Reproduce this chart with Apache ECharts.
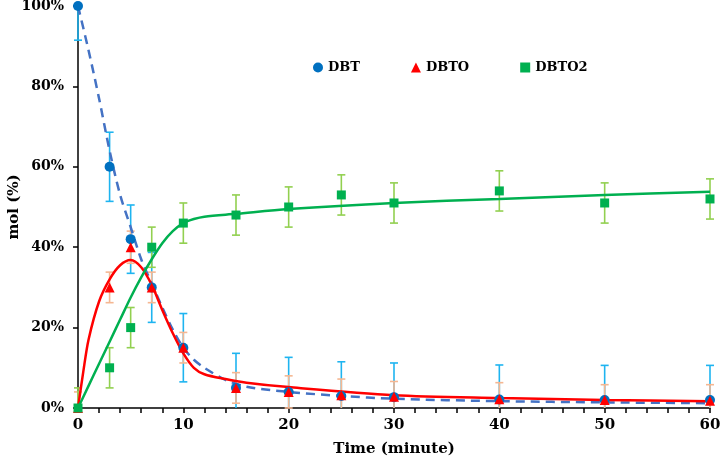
<!DOCTYPE html>
<html>
<head>
<meta charset="utf-8">
<script src="https://cdn.jsdelivr.net/npm/echarts@6/dist/echarts.min.js"></script>
<style>
html, body { margin: 0; padding: 0; background: #fff; }
#main { width: 720px; height: 459px; }
</style>
</head>
<body>
<div id="main"></div>
<script>
// measured points (time in minutes, mol %)
var times = [0, 3, 5, 7, 10, 15, 20, 25, 30, 40, 50, 60];
var dbt = [100, 60, 42, 30, 15, 5, 4, 3, 2.7, 2.1, 2, 2];
var dbto = [0, 30, 40, 30, 15, 5, 4, 3.2, 2.8, 2.2, 2, 1.8];
var dbto2 = [0, 10, 20, 40, 46, 48, 50, 53, 51, 54, 51, 52];
// error bar half widths
var dbtErr = [8.5, 8.6, 8.5, 8.7, 8.5, 8.6, 8.6, 8.5, 8.5, 8.6, 8.6, 8.6];
var dbtoErr = [4, 3.8, 4, 3.8, 3.8, 3.8, 4, 4, 3.8, 4.1, 3.8, 4];
var dbto2Err = [5, 5, 5, 5, 5, 5, 5, 5, 5, 5, 5, 5];

// fitted model curves
var fitDbtT = [0, 1, 2, 3, 4, 5, 6, 7, 8, 9, 10, 11, 12, 14, 16, 20, 25, 30, 40, 50, 60];
var fitDbt = [100, 89, 77, 64, 53, 45, 37, 31, 25, 19.5, 15, 12, 10, 7, 5.3, 4, 3, 2.3, 1.7, 1.4, 1.2];
var fitDbtoT = [0, 0.5, 1, 2, 3, 4, 5, 6, 7, 8, 9, 10, 11, 12, 14, 16, 20, 30, 40, 50, 60];
var fitDbto = [0, 9, 17, 26.5, 32, 35.5, 36.8, 35, 30.6, 24.4, 18.6, 13.6, 10, 8.4, 7.2, 6.3, 5.2, 3.2, 2.5, 2, 1.7];
var fitDbto2T = [0, 1, 2, 3, 4, 5, 6, 7, 8, 9, 10, 11, 12, 15, 20, 30, 40, 50, 60];
var fitDbto2 = [0, 5.5, 11, 16.5, 22, 27.5, 32.5, 37, 41, 44, 46, 47, 47.6, 48.3, 49.5, 51, 52, 53, 53.8];

var yMin = 0;
var yMax = 100;

function pairs(xs, ys) {
    var out = [];
    for (var i = 0; i < xs.length; i++) {
        out.push([xs[i], ys[i]]);
    }
    return out;
}

function errData(xs, ys, es) {
    var out = [];
    for (var i = 0; i < xs.length; i++) {
        out.push([xs[i], ys[i] - es[i], ys[i] + es[i]]);
    }
    return out;
}

// draws one vertical error bar, cut at the axis range (no cap where cut)
function errorBar(color) {
    return function (params, api) {
        var x = api.value(0);
        var v1 = api.value(1), v2 = api.value(2);
        var lowCut = v1 < yMin, highCut = v2 > yMax;
        var lo = api.coord([x, Math.max(v1, yMin)]);
        var hi = api.coord([x, Math.min(v2, yMax)]);
        var w = 4;
        var style = { stroke: color, lineWidth: 1.6 };
        var kids = [{ type: 'line', shape: { x1: lo[0], y1: lo[1], x2: hi[0], y2: hi[1] }, style: style }];
        if (!lowCut) kids.push({ type: 'line', shape: { x1: lo[0] - w, y1: lo[1], x2: lo[0] + w, y2: lo[1] }, style: style });
        if (!highCut) kids.push({ type: 'line', shape: { x1: hi[0] - w, y1: hi[1], x2: hi[0] + w, y2: hi[1] }, style: style });
        return { type: 'group', children: kids };
    };
}

var fontFam = 'DejaVu Serif';
var myChart = echarts.init(document.getElementById('main'));

var option = {
    animation: false,
    backgroundColor: '#ffffff',
    textStyle: { fontFamily: fontFam },
    grid: { left: 78, right: 10, top: 6, bottom: 51, outerBoundsMode: 'none' },
    legend: {
        data: [
            { name: 'DBT', icon: 'circle' },
            { name: 'DBTO', icon: 'triangle' },
            { name: 'DBTO2', icon: 'rect' }
        ],
        left: 308,
        top: 56,
        itemWidth: 10,
        itemHeight: 10,
        itemGap: 51,
        textStyle: { fontFamily: fontFam, fontWeight: 'bold', fontSize: 13, color: '#000' }
    },
    xAxis: {
        type: 'value',
        min: 0,
        max: 60,
        interval: 10,
        name: 'Time (minute)',
        nameLocation: 'middle',
        nameGap: 34,
        nameMoveOverlap: false,
        nameTextStyle: { fontFamily: fontFam, fontWeight: 'bold', fontSize: 15, color: '#000' },
        axisLine: { lineStyle: { color: '#000', width: 1.5 } },
        axisTick: { show: true, length: 5, lineStyle: { color: '#000', width: 1.5 } },
        minorTick: { show: true, splitNumber: 5, length: 5, lineStyle: { color: '#000', width: 1.5 } },
        splitLine: { show: false },
        axisLabel: { fontFamily: fontFam, fontWeight: 'bold', fontSize: 15, color: '#000', margin: 10 }
    },
    yAxis: {
        type: 'value',
        min: yMin,
        max: yMax,
        interval: 20,
        name: 'mol (%)',
        nameLocation: 'middle',
        nameGap: 56,
        nameMoveOverlap: false,
        nameTextStyle: { fontFamily: fontFam, fontWeight: 'bold', fontSize: 15, color: '#000' },
        axisLine: { show: true, lineStyle: { color: '#000', width: 1.5 } },
        axisTick: { show: true, length: 5, lineStyle: { color: '#000', width: 1.5 } },
        splitLine: { show: false },
        axisLabel: { formatter: '{value}%', fontFamily: fontFam, fontWeight: 'bold', fontSize: 14, color: '#000', margin: 14 }
    },
    series: [
        { type: 'custom', name: 'dbtErr', renderItem: errorBar('#1EB4F0'), data: errData(times, dbt, dbtErr), clip: false, z: 1, encode: { x: 0, y: [1, 2] } },
        { type: 'custom', name: 'dbtoErr', renderItem: errorBar('#F5B792'), data: errData(times, dbto, dbtoErr), clip: false, z: 1, encode: { x: 0, y: [1, 2] } },
        { type: 'custom', name: 'dbto2Err', renderItem: errorBar('#92D050'), data: errData(times, dbto2, dbto2Err), clip: false, z: 1, encode: { x: 0, y: [1, 2] } },
        { type: 'line', name: 'fitDbt', data: pairs(fitDbtT, fitDbt), smooth: 0.3, showSymbol: false, z: 2,
          lineStyle: { color: '#4472C4', width: 2.5, type: [9, 6] } },
        { type: 'line', name: 'fitDbto', data: pairs(fitDbtoT, fitDbto), smooth: 0.3, showSymbol: false, z: 2,
          lineStyle: { color: '#FF0000', width: 2.5 } },
        { type: 'line', name: 'fitDbto2', data: pairs(fitDbto2T, fitDbto2), smooth: 0.3, showSymbol: false, z: 2,
          lineStyle: { color: '#00B050', width: 2.5 } },
        { type: 'scatter', name: 'DBT', data: pairs(times, dbt), symbol: 'circle', symbolSize: 10, z: 3,
          itemStyle: { color: '#0070C0', opacity: 1 } },
        { type: 'scatter', name: 'DBTO', data: pairs(times, dbto), symbol: 'triangle', symbolSize: 10, z: 4,
          itemStyle: { color: '#FF0000', opacity: 1 } },
        { type: 'scatter', name: 'DBTO2', data: pairs(times, dbto2), symbol: 'rect', symbolSize: 9, z: 5,
          itemStyle: { color: '#00B050', opacity: 1 } }
    ]
};

myChart.setOption(option);
</script>
</body>
</html>
